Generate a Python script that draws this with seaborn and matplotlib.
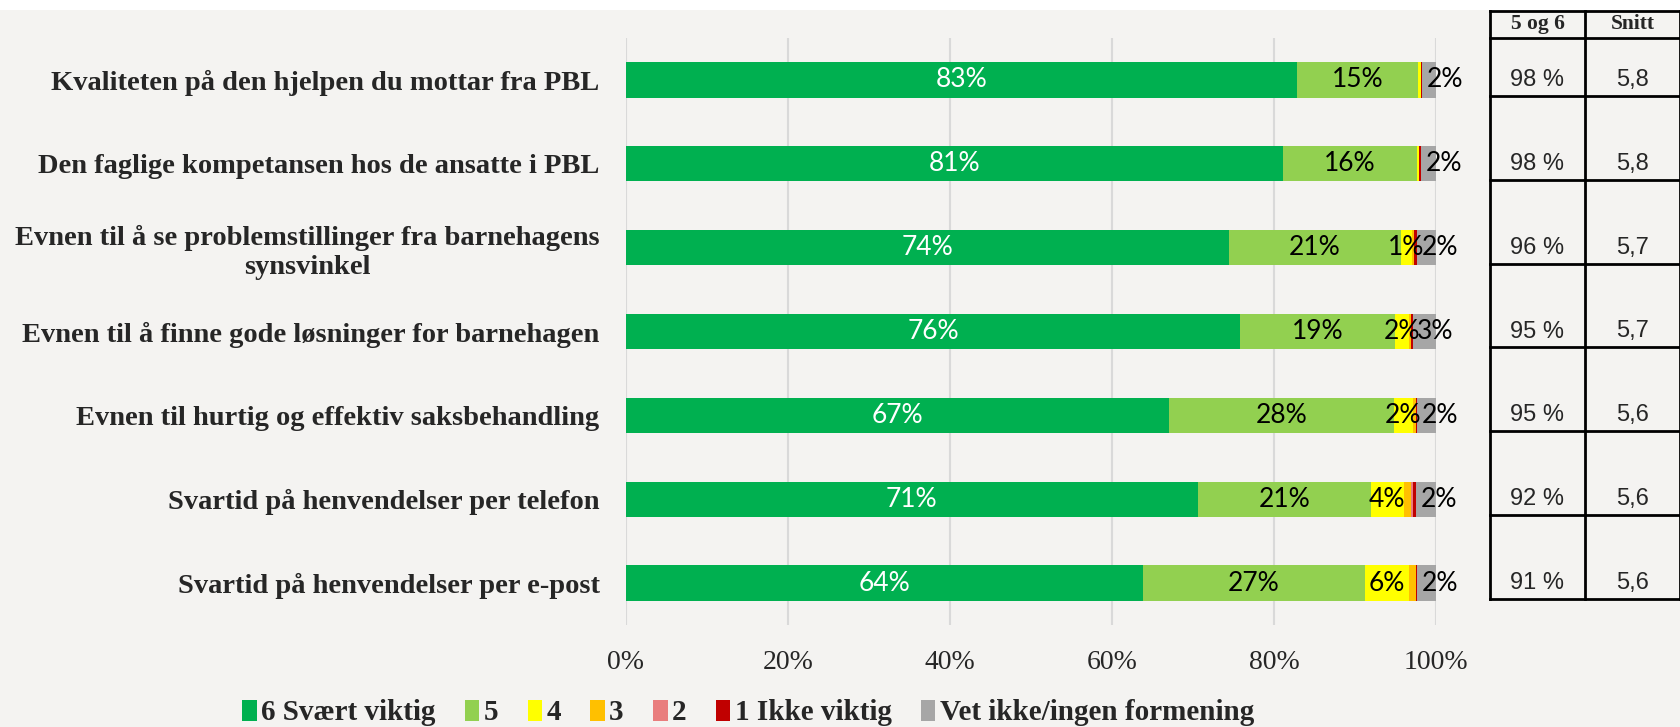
import numpy as np
import pandas as pd
import matplotlib
matplotlib.use("Agg")
import matplotlib.pyplot as plt
from matplotlib.patches import Patch, Rectangle
import seaborn as sns

# data (percent)
categories = [
    "Kvaliteten på den hjelpen du mottar fra PBL",
    "Den faglige kompetansen hos de ansatte i PBL",
    "Evnen til å se problemstillinger fra barnehagens\nsynsvinkel",
    "Evnen til å finne gode løsninger for barnehagen",
    "Evnen til hurtig og effektiv saksbehandling",
    "Svartid på henvendelser per telefon",
    "Svartid på henvendelser per e-post",
]
series_names = ["6 Svært viktig", "5", "4", "3", "2", "1 Ikke viktig", "Vet ikke/ingen formening"]
v6 = [82.9, 81.1, 74.4, 75.8, 67.0, 70.6, 63.8]
v5 = [14.9, 16.5, 21.3, 19.1, 27.8, 21.4, 27.4]
v4 = [0.4, 0.3, 1.3, 1.8, 2.3, 4.0, 5.5]
v3 = [0.0, 0.0, 0.3, 0.2, 0.4, 0.9, 0.8]
v2 = [0.0, 0.0, 0.0, 0.0, 0.0, 0.3, 0.0]
v1 = [0.1, 0.2, 0.3, 0.2, 0.1, 0.3, 0.2]
vet = [1.7, 1.9, 2.4, 2.9, 2.4, 2.5, 2.3]

share_56 = ["98 %", "98 %", "96 %", "95 %", "95 %", "92 %", "91 %"]
snitt = ["5,8", "5,8", "5,7", "5,7", "5,6", "5,6", "5,6"]

colors = ["#00B050", "#92D050", "#FFFF00", "#FFC000", "#E97D7D", "#C00000", "#A6A6A6"]
bg = "#F4F3F1"

sns.set_style("white")
plt.rcParams["font.family"] = ["Liberation Serif", "DejaVu Serif"]

values = np.array([v6, v5, v4, v3, v2, v1, vet])
cum = values.cumsum(axis=0)

fig = plt.figure(figsize=(16.81, 7.27), dpi=100, facecolor=bg)
fig.patches.append(Rectangle((0, 1 - 10 / 727), 1, 10 / 727, transform=fig.transFigure,
                             facecolor="white", edgecolor="none", zorder=0))
ax = fig.add_axes([626 / 1681, 1 - 625 / 727, 810 / 1681, 587 / 727])
ax.set_facecolor(bg)

# stacked bars: draw cumulative totals from the longest down
for i in range(len(series_names) - 1, -1, -1):
    df = pd.DataFrame({"cat": categories, "val": cum[i]})
    sns.barplot(data=df, x="val", y="cat", order=categories, orient="h",
                color=colors[i], saturation=1, width=0.42, linewidth=0, ax=ax, zorder=2)

# segment labels
last = len(series_names) - 1
for i in range(len(series_names)):
    for j in range(len(categories)):
        v = values[i, j]
        if v < 1:
            continue
        txt = f"{int(round(v))}%"
        lkw = dict(va="center", fontsize=19, family=["Lato", "DejaVu Sans"],
                   color="white" if i == 0 else "black", zorder=3)
        if i == last:
            # the "vet ikke" labels sit just right of where the grey segment starts
            ax.text(cum[i - 1, j] + 0.6, j, txt, ha="left", **lkw)
        else:
            ax.text(cum[i, j] - v / 2, j, txt, ha="center", **lkw)

ax.set_xlim(0, 100)
ax.set_ylim(6.5, -0.5)
ax.set_xticks(range(0, 101, 20))
ax.set_xticklabels([f"{t}%" for t in range(0, 101, 20)], fontsize=20)
ax.set_xlabel("")
ax.set_ylabel("")
ax.set_yticks(range(len(categories)))
ax.set_yticklabels(categories, fontsize=20.5, fontweight="bold", multialignment="center")
ax.tick_params(axis="y", length=0, pad=19)
ax.tick_params(axis="x", length=0, pad=18)
ax.grid(axis="x", color="#D9D9D9", lw=1.5, zorder=0)
ax.set_axisbelow(True)
for s in ax.spines.values():
    s.set_visible(False)

# table on the right
tx = fig.add_axes([1490 / 1681, 1 - 625 / 727, 190 / 1681, 587 / 727], sharey=ax)
tx.set_xlim(0, 1)
tx.axis("off")
top = -0.5 - 27 / 83.8
lw = 2
kw = dict(color="black", lw=lw, clip_on=False, solid_capstyle="projecting")
for xv in [0, 0.5, 1]:
    tx.plot([xv, xv], [top, 6 + 0.19], **kw)
tx.plot([0, 1], [top, top], **kw)
tx.plot([0, 1], [-0.5, -0.5], **kw)
for j in range(len(categories)):
    tx.plot([0, 1], [j + 0.19, j + 0.19], **kw)
    tx.text(0.25, j, share_56[j], ha="center", va="center", fontsize=17,
            family=["Liberation Sans", "DejaVu Sans"])
    tx.text(0.75, j, snitt[j], ha="center", va="center", fontsize=17,
            family=["Liberation Sans", "DejaVu Sans"])
hy = (top - 0.5) / 2
tx.text(0.25, hy, "5 og 6", ha="center", va="center", fontsize=15.5, fontweight="bold")
tx.text(0.75, hy, "Snitt", ha="center", va="center", fontsize=15.5, fontweight="bold")

handles = [Patch(facecolor=c, edgecolor="none") for c in colors]
fig.legend(handles, series_names, loc="center left", bbox_to_anchor=(222 / 1681, 1 - 713 / 727),
           ncol=7, frameon=False, handlelength=0.5, handleheight=0.75, handletextpad=0.15,
           columnspacing=1.0, borderpad=0.2,
           prop={"family": "Liberation Serif", "weight": "bold", "size": 21})

fig.savefig("out.png", dpi=100, facecolor=bg)
